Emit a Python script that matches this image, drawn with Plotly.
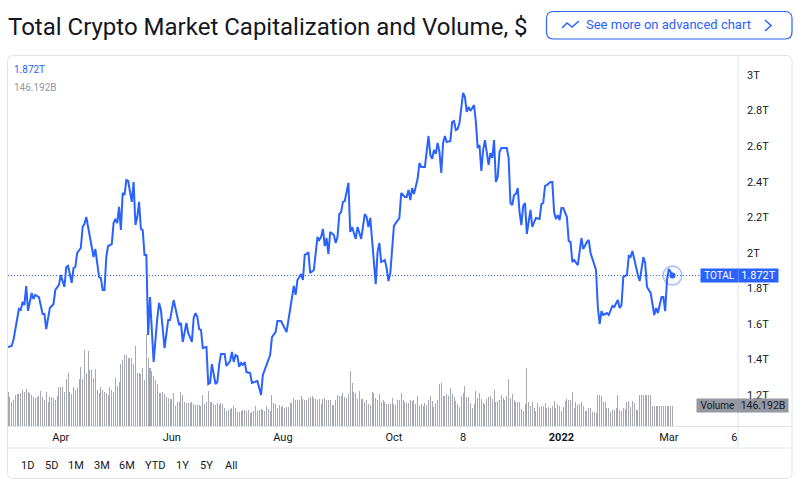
import pandas as pd
import plotly.graph_objects as go

START = "2021-03-03"
W, H = 798, 490

TITLE = "Total Crypto Market Capitalization and Volume, $"
BUTTON_TEXT = "See more on advanced chart"
LAST_PRICE = 1.872
LAST_VOLUME = 146.192
RANGE_LABELS = ["1D", "5D", "1M", "3M", "6M", "YTD", "1Y", "5Y", "All"]
RANGE_X = [27, 51, 76, 102, 127, 155, 182, 206, 231]

PRICE_TICKS = [1.2, 1.4, 1.6, 1.8, 2, 2.2, 2.4, 2.6, 2.8, 3]
PRICE_LABELS = ["1.2T", "1.4T", "1.6T", "1.8T", "2T", "2.2T", "2.4T", "2.6T", "2.8T", "3T"]
DATE_TICKS = ["2021-04-01", "2021-06-01", "2021-08-01", "2021-10-01", "2021-11-08",
              "2022-01-01", "2022-03-01", "2022-04-06"]
DATE_LABELS = ["Apr", "Jun", "Aug", "Oct", "8", "<b>2022</b>", "Mar", "6"]

# days since START, market cap in trillions
line_days = [
    0, 2, 3, 4, 6, 7, 8, 9, 10, 11, 13, 14, 15, 17, 19, 20, 21, 23, 25, 26,
    28, 29, 31, 32, 33, 35, 36, 37, 38, 40, 41, 42, 43, 45, 46, 47, 48, 49, 50, 51,
    52, 53, 54, 55, 57, 58, 59, 60, 61, 62, 63, 64, 65, 66, 68, 69, 70, 71, 72, 73,
    74, 75, 76, 77, 78, 79, 80, 82, 83, 84, 86, 88, 89, 91, 94, 95, 96, 98, 99, 100,
    101, 102, 103, 104, 105, 106, 107, 109, 110, 111, 112, 114, 115, 116, 117, 119, 120, 122, 123, 124,
    125, 126, 127, 128, 129, 130, 131, 133, 134, 137, 139, 140, 142, 144, 145, 147, 148, 150, 153, 154,
    156, 157, 158, 159, 161, 162, 163, 164, 165, 166, 168, 170, 171, 172, 173, 174, 175, 176, 177, 179,
    180, 181, 182, 183, 184, 185, 187, 188, 189, 191, 192, 194, 196, 197, 198, 199, 200, 202, 203, 204,
    205, 207, 208, 209, 210, 212, 213, 214, 215, 216, 218, 219, 220, 221, 222, 223, 225, 226, 227, 229,
    231, 232, 233, 234, 235, 236, 237, 238, 239, 240, 241, 243, 244, 245, 246, 247, 248, 250, 251, 252,
    253, 254, 256, 257, 258, 259, 260, 261, 262, 264, 265, 266, 267, 268, 269, 270, 271, 274, 275, 276,
    277, 278, 279, 280, 281, 282, 283, 284, 285, 287, 288, 290, 292, 293, 294, 295, 296, 298, 299, 300,
    301, 302, 303, 304, 305, 307, 308, 309, 310, 311, 312, 313, 315, 316, 318, 319, 320, 321, 323, 324,
    325, 326, 327, 329, 330, 332, 333, 335, 336, 337, 338, 340, 341, 342, 343, 346, 347, 349, 350, 351,
    353, 355, 356, 357, 359, 360, 361, 362, 363, 365,
]
line_vals = [
    1.47, 1.476, 1.509, 1.566, 1.684, 1.678, 1.723, 1.706, 1.813, 1.673, 1.774, 1.74, 1.763, 1.751, 1.656, 1.656, 1.571, 1.689, 1.712, 1.791,
    1.819, 1.875, 1.808, 1.92, 1.926, 1.83, 1.914, 1.92, 1.999, 2.027, 2.145, 2.162, 2.201, 2.089, 2.033, 1.976, 2.021, 1.954, 1.864, 1.858,
    1.791, 1.791, 1.976, 2.038, 2.049, 2.167, 2.19, 2.167, 2.258, 2.128, 2.336, 2.325, 2.409, 2.404, 2.286, 2.398, 2.156, 2.201, 2.286, 2.134,
    2.128, 1.988, 1.988, 1.538, 1.751, 1.566, 1.386, 1.633, 1.718, 1.678, 1.464, 1.622, 1.622, 1.734, 1.594, 1.605, 1.498, 1.605, 1.549, 1.526,
    1.498, 1.633, 1.661, 1.639, 1.571, 1.566, 1.464, 1.47, 1.262, 1.268, 1.374, 1.262, 1.273, 1.369, 1.431, 1.431, 1.363, 1.391, 1.442, 1.386,
    1.425, 1.419, 1.358, 1.38, 1.369, 1.386, 1.329, 1.324, 1.268, 1.279, 1.2, 1.313, 1.369, 1.425, 1.526, 1.554, 1.616, 1.616, 1.554, 1.622,
    1.74, 1.813, 1.763, 1.847, 1.881, 1.847, 1.988, 1.993, 2.004, 1.886, 1.903, 2.089, 2.072, 2.089, 2.134, 2.038, 2.083, 1.993, 2.117, 2.1,
    2.055, 2.089, 2.218, 2.229, 2.286, 2.291, 2.393, 2.117, 2.145, 2.078, 2.145, 2.078, 2.218, 2.201, 2.145, 2.196, 2.072, 1.824, 2.004, 2.055,
    1.948, 1.959, 1.914, 1.841, 1.886, 2.151, 2.167, 2.184, 2.196, 2.336, 2.314, 2.314, 2.353, 2.297, 2.364, 2.331, 2.415, 2.505, 2.483, 2.483,
    2.657, 2.55, 2.528, 2.578, 2.556, 2.618, 2.567, 2.449, 2.618, 2.657, 2.623, 2.629, 2.736, 2.741, 2.691, 2.696, 2.73, 2.899, 2.876, 2.792,
    2.82, 2.798, 2.831, 2.736, 2.589, 2.606, 2.46, 2.578, 2.634, 2.494, 2.561, 2.533, 2.634, 2.398, 2.426, 2.567, 2.589, 2.589, 2.533, 2.28,
    2.269, 2.325, 2.331, 2.364, 2.229, 2.156, 2.263, 2.28, 2.106, 2.241, 2.145, 2.196, 2.19, 2.274, 2.28, 2.376, 2.381, 2.398, 2.398, 2.229,
    2.19, 2.212, 2.184, 2.252, 2.252, 2.201, 2.066, 2.061, 1.948, 1.959, 1.943, 1.931, 2.083, 2.021, 2.061, 2.072, 1.999, 1.971, 1.903, 1.695,
    1.599, 1.672, 1.65, 1.661, 1.65, 1.701, 1.695, 1.734, 1.689, 1.706, 1.864, 1.875, 1.982, 1.976, 2.01, 1.875, 1.841, 1.976, 1.943, 1.808,
    1.774, 1.65, 1.689, 1.661, 1.751, 1.751, 1.672, 1.847, 1.909, LAST_PRICE,
]

# daily volume in billions
volume = [
    248, 212, 175, 190, 226, 234, 234, 241, 263, 248,
    270, 248, 241, 226, 212, 204, 212, 219, 256, 212,
    190, 248, 175, 212, 212, 204, 190, 219, 285, 285,
    285, 248, 343, 387, 248, 234, 285, 263, 277, 343,
    431, 343, 555, 387, 548, 409, 409, 350, 416, 263,
    241, 285, 263, 248, 241, 226, 285, 263, 248, 350,
    292, 321, 453, 482, 518, 518, 496, 496, 496, 453,
    584, 387, 387, 380, 423, 336, 672, 496, 423, 402,
    365, 336, 307, 241, 241, 248, 234, 212, 204, 197,
    197, 241, 146, 175, 175, 248, 226, 175, 168, 168,
    168, 175, 161, 153, 153, 153, 146, 226, 161, 175,
    256, 175, 175, 161, 153, 168, 153, 168, 161, 131,
    110, 117, 124, 131, 146, 131, 102, 102, 110, 117,
    117, 110, 117, 95, 102, 110, 146, 110, 117, 124,
    117, 110, 146, 124, 110, 226, 168, 161, 131, 153,
    139, 146, 131, 139, 139, 168, 168, 204, 190, 190,
    190, 219, 197, 190, 190, 204, 212, 219, 204, 197,
    190, 197, 161, 197, 204, 190, 190, 190, 153, 153,
    190, 226, 219, 219, 241, 212, 204, 234, 402, 314,
    248, 241, 197, 256, 197, 197, 175, 190, 161, 153,
    248, 241, 204, 190, 234, 175, 190, 175, 161, 161,
    161, 204, 161, 153, 190, 190, 241, 190, 175, 168,
    168, 190, 183, 190, 161, 219, 146, 161, 146, 168,
    153, 190, 219, 183, 139, 168, 190, 307, 314, 219,
    219, 234, 219, 277, 234, 212, 183, 161, 139, 219,
    241, 292, 212, 212, 168, 131, 161, 256, 204, 241,
    197, 168, 161, 197, 212, 219, 197, 263, 175, 183,
    190, 226, 204, 190, 219, 343, 204, 234, 190, 175,
    175, 175, 124, 110, 161, 423, 175, 146, 175, 131,
    110, 168, 139, 146, 146, 168, 131, 139, 131, 146,
    183, 131, 161, 146, 110, 139, 183, 197, 190, 190,
    248, 131, 175, 153, 161, 175, 146, 110, 110, 131,
    131, 102, 102, 95, 226, 226, 219, 175, 175, 131,
    131, 102, 117, 117, 131, 226, 117, 110, 131, 124,
    175, 183, 139, 183, 168, 117, 117, 226, 226, 226,
    226, 226, 226, 226, 146, 146, 146, 146, 146, 146,
    146, 146, 146, 146, 146, LAST_VOLUME,
]

BLUE = "#2962ff"
GRAY = "#9598a1"
BORDER = "#e0e3eb"
TEXT = "#131722"
FONT = "Roboto"


def px_x(x):
    return x / W


def px_y(y):
    return 1 - y / H


def paper_line(x0, y0, x1, y1, color=BORDER, width=1):
    return dict(type="line", xref="paper", yref="paper", x0=px_x(x0), y0=px_y(y0), x1=px_x(x1), y1=px_y(y1),
                line=dict(color=color, width=width))


def paper_path(points, color=BLUE, width=1.5):
    d = "M " + " L ".join(f"{px_x(x):.5f},{px_y(y):.5f}" for x, y in points)
    return dict(type="path", xref="paper", yref="paper", path=d, line=dict(color=color, width=width))


def rounded_rect(x0, y0, x1, y1, r, color, width=1):
    d = (f"M {px_x(x0 + r):.5f},{px_y(y0):.5f} L {px_x(x1 - r):.5f},{px_y(y0):.5f} "
         f"Q {px_x(x1):.5f},{px_y(y0):.5f} {px_x(x1):.5f},{px_y(y0 + r):.5f} "
         f"L {px_x(x1):.5f},{px_y(y1 - r):.5f} "
         f"Q {px_x(x1):.5f},{px_y(y1):.5f} {px_x(x1 - r):.5f},{px_y(y1):.5f} "
         f"L {px_x(x0 + r):.5f},{px_y(y1):.5f} "
         f"Q {px_x(x0):.5f},{px_y(y1):.5f} {px_x(x0):.5f},{px_y(y1 - r):.5f} "
         f"L {px_x(x0):.5f},{px_y(y0 + r):.5f} "
         f"Q {px_x(x0):.5f},{px_y(y0):.5f} {px_x(x0 + r):.5f},{px_y(y0):.5f} Z")
    return dict(type="path", xref="paper", yref="paper", path=d, line=dict(color=color, width=width))


def label(text, x, y, size=11, color=TEXT, anchor="center", **kw):
    return dict(text=text, xref="paper", yref="paper", x=px_x(x), y=px_y(y), xanchor=anchor, yanchor="middle",
                showarrow=False, font=dict(family=FONT, size=size, color=color), **kw)


start = pd.Timestamp(START)
line_dates = [start + pd.Timedelta(days=d) for d in line_days]
vol_dates = pd.date_range(start, periods=len(volume), freq="D")

fig = go.Figure()
# alpha under 1 in the colour stops plotly widening thin bars to full pixels
fig.add_trace(go.Bar(x=vol_dates, y=volume, yaxis="y", marker=dict(color="rgba(165,168,176,0.99)", line_width=0),
                     width=0.55 * 86400000, hoverinfo="skip"))
fig.add_trace(go.Scatter(x=line_dates, y=line_vals, yaxis="y2", mode="lines",
                         line=dict(color=BLUE, width=2), hoverinfo="skip"))
fig.add_trace(go.Scatter(x=[line_dates[-1]], y=[LAST_PRICE], yaxis="y2", mode="markers",
                         marker=dict(size=19, color="rgba(41,98,255,0.04)",
                                     line=dict(color="rgba(41,98,255,0.4)", width=1.5)), hoverinfo="skip"))
fig.add_trace(go.Scatter(x=[line_dates[-1]], y=[LAST_PRICE], yaxis="y2", mode="markers",
                         marker=dict(size=6, color=BLUE), hoverinfo="skip"))

shapes = [
    rounded_rect(7.5, 55.5, 792, 478.5, 6, BORDER),
    paper_line(738, 55, 738, 448),
    paper_line(8, 426.5, 792, 426.5),
    paper_line(8, 448, 792, 448),
    rounded_rect(546.5, 11.5, 792, 39, 7, BLUE, 1.2),
    paper_path([(562, 28), (567, 23), (572, 27), (579, 21)]),
    paper_path([(765, 20), (771, 25.5), (765, 31)]),
    dict(type="line", xref="paper", yref="y2", x0=px_x(8), x1=px_x(702), y0=LAST_PRICE, y1=LAST_PRICE,
         line=dict(color=BLUE, width=1, dash="1px,2px")),
]

annotations = [
    label(TITLE, 6, 27, size=24, anchor="left"),
    label(BUTTON_TEXT, 584, 25, size=13, color=BLUE, anchor="left"),
    label("1.872T", 12, 70, size=10, color=BLUE, anchor="left"),
    label("146.192B", 12, 88, size=10, color=GRAY, anchor="left"),
]
for text, x in zip(RANGE_LABELS, RANGE_X):
    annotations.append(label(text, x, 465, size=11))

# price and volume tags sit on the last values
tag = dict(xref="paper", xanchor="center", yanchor="middle", showarrow=False, height=13, borderpad=0)
annotations += [
    dict(tag, yref="y2", y=LAST_PRICE, x=px_x(719.5), width=37, text="TOTAL", bgcolor=BLUE,
         font=dict(family=FONT, size=10, color="white")),
    dict(tag, yref="y2", y=LAST_PRICE, x=px_x(758.5), width=39, text="1.872T", bgcolor=BLUE,
         font=dict(family=FONT, size=11, color="white")),
    dict(tag, yref="y", y=LAST_VOLUME, x=px_x(717.5), width=41, text="Volume", bgcolor=GRAY,
         font=dict(family=FONT, size=10, color=TEXT)),
    dict(tag, yref="y", y=LAST_VOLUME, x=px_x(763), width=50, text="146.192B", bgcolor=GRAY,
         font=dict(family=FONT, size=10.5, color=TEXT)),
]

fig.update_layout(
    width=W, height=H,
    margin=dict(l=0, r=0, t=0, b=0),
    paper_bgcolor="white",
    plot_bgcolor="white",
    showlegend=False,
    bargap=0,
    font=dict(family=FONT, size=11, color=TEXT),
    shapes=shapes,
    annotations=annotations,
    xaxis=dict(
        domain=[px_x(8), px_x(738)],
        range=[start, start + pd.Timedelta(days=401)],
        tickmode="array", tickvals=DATE_TICKS, ticktext=DATE_LABELS,
        showgrid=False, zeroline=False, showline=False, ticks="", ticklabelstandoff=2,
        tickfont=dict(family=FONT, size=11, color=TEXT),
    ),
    yaxis=dict(
        domain=[px_y(427), px_y(55)],
        range=[-7.3, 2708],
        visible=False,
    ),
    yaxis2=dict(
        domain=[px_y(427), px_y(55)],
        overlaying="y", side="right", anchor="x",
        range=[1.2 - 32 / 177.8, 3 + 20 / 177.8],
        tickmode="array", tickvals=PRICE_TICKS, ticktext=PRICE_LABELS,
        showgrid=False, zeroline=False, showline=False, ticks="", ticklabelstandoff=8,
        tickfont=dict(family=FONT, size=11, color=TEXT),
    ),
)

fig.write_html("out.html", config=dict(displayModeBar=False),
               post_script="document.body.style.margin='0';")
